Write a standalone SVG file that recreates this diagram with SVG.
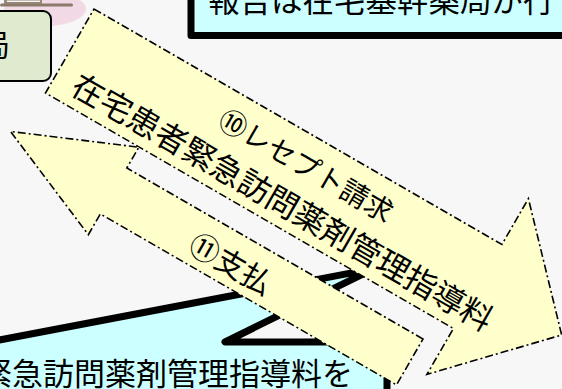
<svg xmlns="http://www.w3.org/2000/svg" width="562" height="389" viewBox="0 0 562 389">
<style>
  .t { font-family: "Noto Sans CJK JP", "Noto Sans", sans-serif; fill: #000; }
  .arrow { fill: #ffffcc; stroke: #000; stroke-width: 1.6; stroke-dasharray: 8 3 2 3; stroke-linejoin: miter; }
  .box { fill: #ccffff; stroke: #000; stroke-width: 7; stroke-linejoin: round; }
</style>
<rect x="0" y="0" width="562" height="389" fill="#f7f7f7"/>

<g id="decor-top-left">
  <ellipse cx="45" cy="9" rx="41" ry="17" fill="#f2d9e6"/>
  <rect x="4" y="-4" width="38" height="8" fill="#9a8a7a"/>
  <rect x="7" y="0.5" width="33" height="1.5" fill="#f4f4f4"/>
  <rect x="0" y="3.5" width="73" height="3" rx="1.5" fill="#8c7b6a"/>
</g>

<g id="node-pharmacy">
  <rect x="-30" y="11" width="81" height="70" rx="8" fill="#dfeacf" stroke="#000" stroke-width="2"/>
  <text class="t" x="10" y="56" font-size="30" text-anchor="end">局</text>
</g>

<g id="node-report">
  <rect class="box" x="191" y="-30" width="420" height="65.5"/>
  <text class="t" x="208" y="12" font-size="31.5">報告は在宅基幹薬局が行う</text>
</g>

<g id="node-callout">
  <path class="box" d="M -40 342 L -11 342 L 374 268.6 L 225 342 L 387 342 L 387 420 L -40 420 Z"/>
  <text class="t" x="-19" y="385" font-size="31">緊急訪問薬剤管理指導料を</text>
</g>

<g id="connectors">
  <g id="arrow-claim" transform="translate(94,9) rotate(30)">
    <polygon class="arrow" points="0,0 471,0 471,-53 568,48.5 471,150 471,97 0,97"/>
    <text class="t" x="262" y="40" font-size="28" text-anchor="middle">⑩レセプト請求</text>
    <text class="t" x="260" y="85" font-size="32" text-anchor="middle">在宅患者緊急訪問薬剤管理指導料</text>
  </g>
  <g id="arrow-payment" transform="translate(423,339) rotate(30)">
    <polygon class="arrow" points="0,0 -342,0 -342,-24 -461,26.5 -342,77 -342,53 0,53"/>
    <text class="t" x="-204" y="42" font-size="30" text-anchor="middle">⑪支払</text>
  </g>
</g>
</svg>
